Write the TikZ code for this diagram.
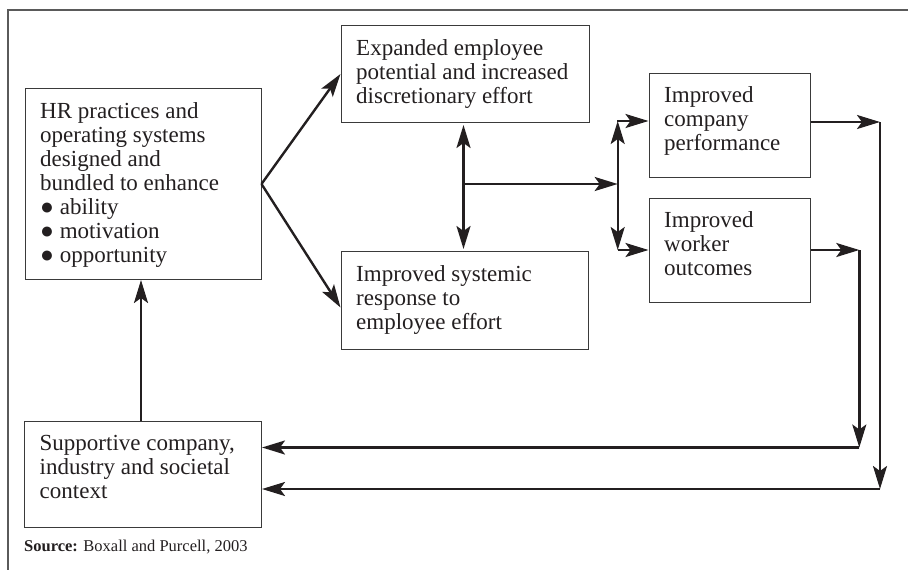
\documentclass[tikz,border=0pt]{standalone}
\usepackage{fontspec}
\setmainfont{Liberation Serif}
\usetikzlibrary{arrows.meta}

\definecolor{ink}{HTML}{231F20}
\definecolor{rim}{HTML}{3A3A3A}
\definecolor{frame}{HTML}{5A5A5A}

\begin{document}
\begin{tikzpicture}[x=1pt,y=-1pt,
  box/.style={draw=rim, line width=1pt, rectangle, inner sep=0pt, anchor=north west},
  % multi-line texts are placed by the baseline of their last line
  txt/.style={font=\fontsize{23}{24}\selectfont, align=left, inner sep=0pt, anchor=base west, text=ink},
  tip/.style={Stealth[length=23pt,width=14pt,inset=5pt]},
  arr/.style={draw=ink, line width=2.4pt, -{Stealth[length=23pt,width=14pt,inset=5pt]}},
  dblarr/.style={draw=ink, line width=2.4pt, {Stealth[length=23pt,width=14pt,inset=5pt]}-{Stealth[length=23pt,width=14pt,inset=5pt]}},
  wire/.style={draw=ink, line width=2.4pt}
]
\useasboundingbox (0,0) rectangle (908,570);

% open frame: top and left edges only
\draw[frame, line width=1.3pt] (908,10) -- (8,10) -- (8,570);

% boxes
\node[box, minimum width=236pt, minimum height=191pt] (hr)   at (24.5,88)  {};
\node[box, minimum width=248pt, minimum height=97pt]  (exp)  at (340.5,25) {};
\node[box, minimum width=247.5pt, minimum height=98pt] (sys) at (340.5,251) {};
\node[box, minimum width=161pt, minimum height=104pt] (comp) at (648.5,73) {};
\node[box, minimum width=161pt, minimum height=104pt] (work) at (648.5,198) {};
\node[box, minimum width=237pt, minimum height=106pt] (sup)  at (24,420.5) {};

% box texts
\node[txt] (hrt) at (40,262) {HR practices and\\operating systems\\designed and\\bundled to enhance\\● ability\\● motivation\\● opportunity};
\node[txt] (expt) at (356,103) {Expanded employee\\potential and increased\\discretionary effort};
\node[txt] (syst) at (356,329.5) {Improved systemic\\response to\\employee effort};
\node[txt] (compt) at (664,150.5) {Improved\\company\\performance};
\node[txt] (workt) at (664,275) {Improved\\worker\\outcomes};
\node[txt] (supt) at (39.5,498) {Supportive company,\\industry and societal\\context};

% source line
\node[txt, font=\fontsize{16.5}{18}\selectfont] (src) at (24,551.5) {\textbf{Source:} Boxall and Purcell, 2003};

% junction points
\coordinate (mid) at (463.5,184);
\coordinate (split) at (617.7,184);
\coordinate (stop) at (617.7,121);
\coordinate (sbot) at (617.7,250);
\coordinate (c1) at (880,122);
\coordinate (c2) at (880,489);
\coordinate (w1) at (859.3,250);
\coordinate (w2) at (859.3,447.5);

% HR practices fan out
\draw[arr] (hr.east) -- (exp.west);
\draw[arr] (hr.east) -- ([yshift=-7pt]sys.west);

% link between the two middle boxes
\draw[dblarr, shorten <=2pt, shorten >=2pt] (exp.south -| mid) -- (sys.north -| mid);
\draw[arr] (mid) -- (split);

% split towards outcomes
\draw[dblarr] (stop) -- (sbot);
\draw[wire] (stop) -- ++(-1.2,0);
\draw[arr] (stop) -- (stop -| comp.west);
\draw[arr] (sbot) -- (sbot -| work.west);

% feedback from company performance
\draw[arr] (c1 -| comp.east) -- (c1);
\draw[arr] (c1) -- (c2);
\draw[arr] (c2) -- (c2 -| sup.east);

% feedback from worker outcomes
\draw[arr] (w1 -| work.east) -- (w1);
\draw[arr] (w1) -- (w2);
\draw[arr] (w2) -- (w2 -| sup.east);

% context supports HR practices
\draw[arr] (sup.north -| 141,0) -- (hr.south -| 141,0);
\end{tikzpicture}
\end{document}
